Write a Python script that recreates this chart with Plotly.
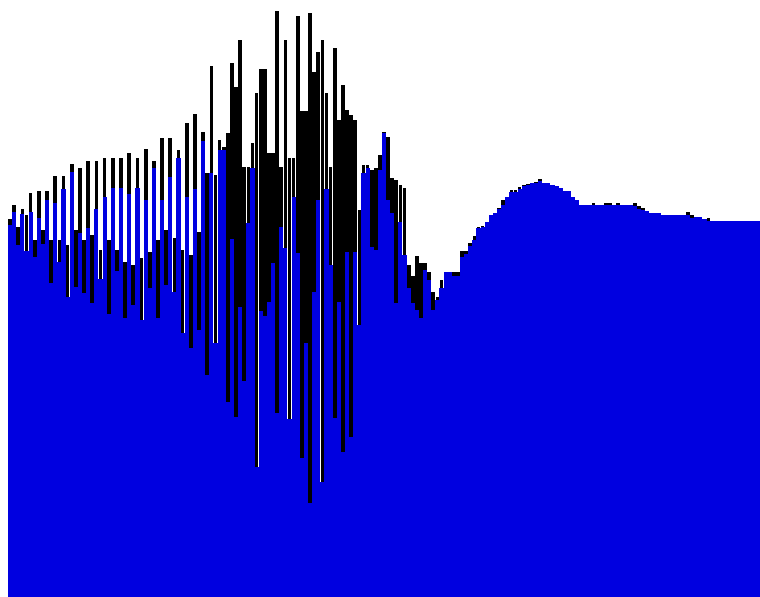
import plotly.graph_objects as go

# Upper (black) series and lower (blue) series, one value per bin
upper = [378, 392, 370, 388, 382, 404, 357, 406, 367, 406,
         357, 421, 357, 421, 352, 433, 367, 429, 357, 436,
         362, 436, 347, 439, 357, 439, 347, 439, 335, 444,
         332, 439, 339, 448, 345, 436, 357, 459, 367, 459,
         359, 447, 347, 474, 342, 483, 365, 465, 424, 531,
         422, 457, 450, 464, 534, 510, 557, 430, 430, 454,
         504, 528, 528, 444, 444, 586, 430, 557, 439, 439,
         581, 486, 486, 584, 525, 545, 557, 504, 430, 549,
         477, 512, 487, 482, 477, 387, 432, 432, 427, 429,
         442, 465, 460, 419, 417, 412, 409, 332, 321, 341,
         334, 334, 325, 305, 300, 317, 325, 325, 325, 325,
         346, 346, 354, 361, 370, 371, 375, 382, 384, 389,
         397, 400, 407, 407, 410, 412, 413, 414, 415, 418,
         414, 414, 412, 411, 409, 406, 406, 400, 397, 392,
         392, 392, 394, 392, 392, 394, 394, 392, 394, 392,
         392, 392, 394, 391, 389, 386, 384, 384, 384, 382,
         382, 382, 382, 382, 382, 385, 382, 380, 380, 378,
         379, 376, 376, 376, 376, 376, 376, 376, 376, 376,
         376, 376, 376]

lower = [372, 385, 352, 383, 346, 385, 340, 379, 353, 397,
         314, 394, 335, 408, 300, 425, 310, 364, 304, 369,
         294, 388, 318, 400, 283, 409, 326, 409, 279, 403,
         292, 409, 277, 397, 309, 429, 279, 397, 312, 420,
         305, 439, 264, 400, 249, 408, 267, 456, 222, 424,
         254, 447, 447, 195, 358, 180, 290, 216, 374, 429,
         130, 286, 281, 295, 334, 184, 370, 349, 178, 400,
         344, 139, 254, 94, 305, 397, 115, 408, 332, 179,
         295, 145, 345, 160, 345, 272, 424, 429, 350, 347,
         427, 464, 397, 384, 294, 375, 342, 309, 294, 287,
         279, 327, 317, 287, 297, 309, 325, 325, 321, 321,
         340, 343, 351, 357, 369, 370, 375, 382, 384, 388,
         392, 400, 405, 405, 408, 411, 412, 414, 414, 416,
         414, 414, 412, 411, 409, 406, 406, 400, 397, 392,
         392, 392, 392, 392, 392, 392, 392, 392, 392, 392,
         392, 392, 391, 388, 387, 386, 384, 384, 384, 382,
         382, 382, 382, 382, 382, 382, 379, 380, 380, 378,
         376, 376, 376, 376, 376, 376, 376, 376, 376, 376,
         376, 376, 376]

bins = list(range(len(lower)))

fig = go.Figure()
fig.add_trace(go.Bar(x=bins, y=upper, width=0.9,
                     marker=dict(color="#000000", line=dict(width=0)),
                     showlegend=False, hoverinfo="skip"))
fig.add_trace(go.Bar(x=bins, y=lower, width=1.0,
                     marker=dict(color="#0000E0", line=dict(width=0)),
                     showlegend=False, hoverinfo="skip"))

fig.update_layout(
    template="none",
    width=760, height=597,
    margin=dict(l=8, r=0, t=0, b=0),
    paper_bgcolor="white", plot_bgcolor="white",
    barmode="overlay", bargap=0,
    xaxis=dict(visible=False, range=[-0.5, len(bins) - 0.5]),
    yaxis=dict(visible=False, range=[0, 597]),
    showlegend=False,
)

fig.write_html(
    "out.html",
    config={"responsive": False, "displayModeBar": False},
    post_script="document.body.style.margin='0';document.body.style.overflow='hidden';",
)
